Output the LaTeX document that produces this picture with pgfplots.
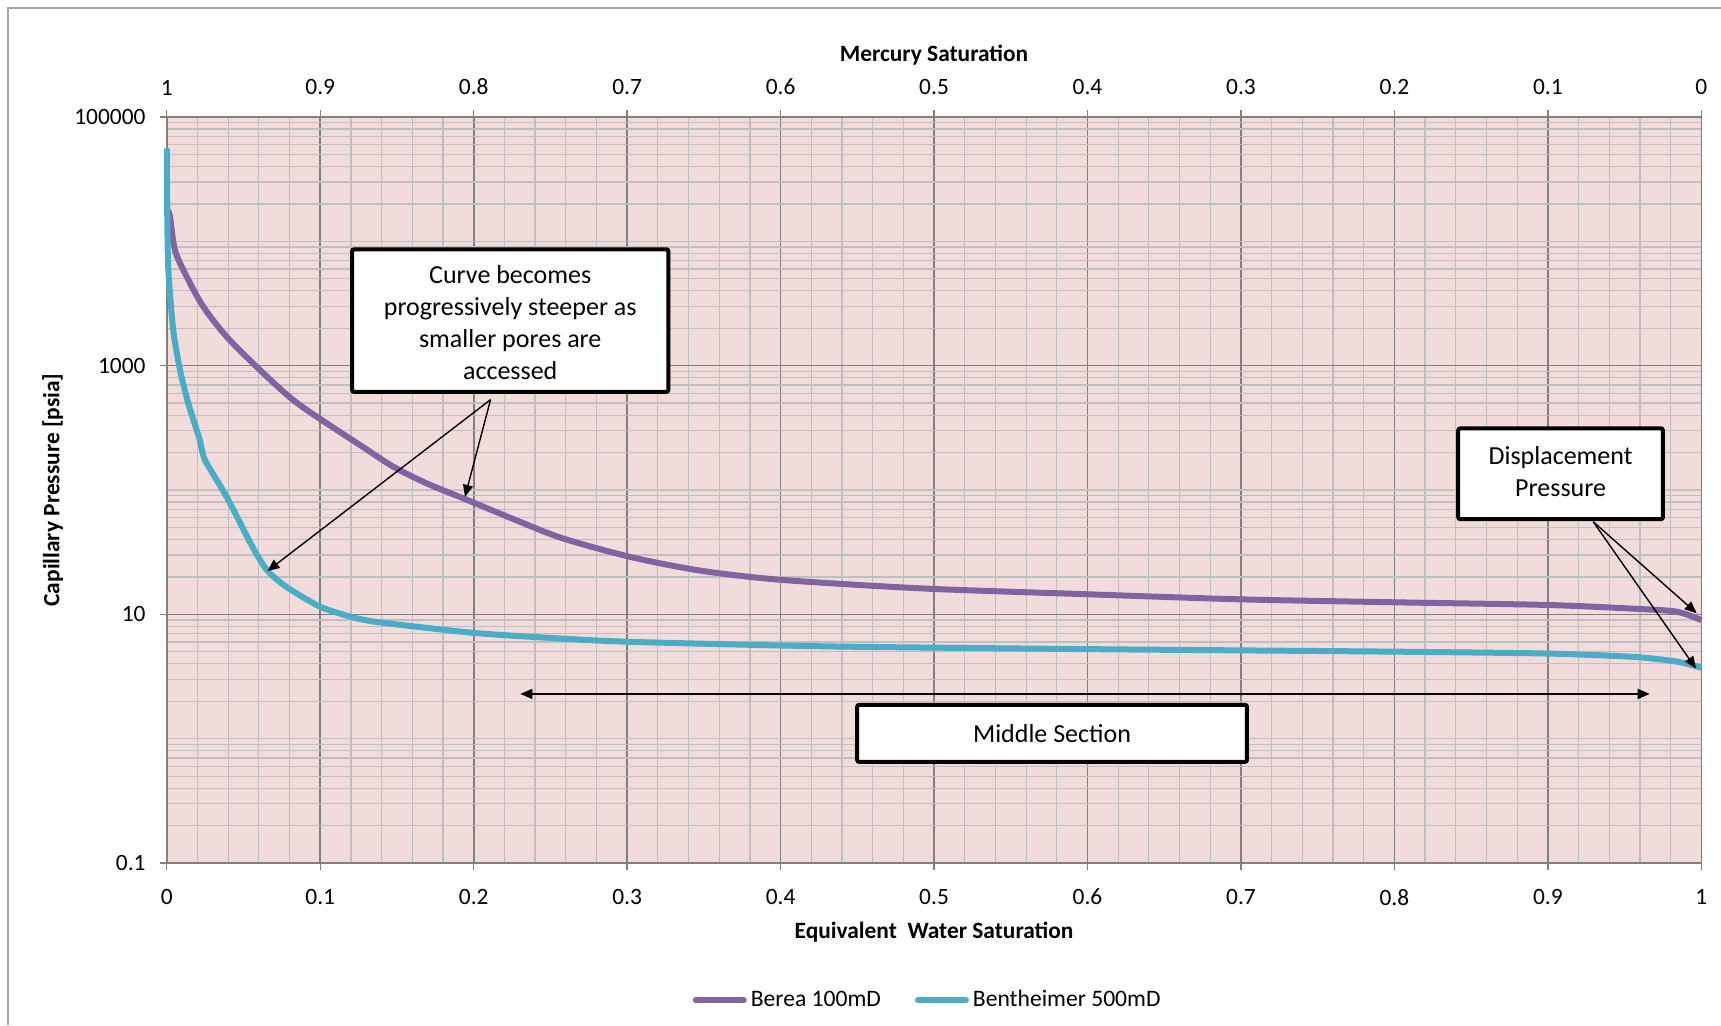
\documentclass[border=0pt]{standalone}
\usepackage{fontspec}
\setmainfont{Carlito}
\usepackage{pgfplots}
\pgfplotsset{compat=1.18}
\usetikzlibrary{arrows.meta}
\definecolor{berea}{HTML}{8064A2}
\definecolor{benth}{HTML}{4BACC6}
\definecolor{bgpink}{HTML}{F2DCDB}
\definecolor{majgrid}{HTML}{808080}
\definecolor{mingrid}{HTML}{BFBFBF}
\definecolor{framegray}{HTML}{A6A6A6}

\begin{document}
\begin{tikzpicture}
\useasboundingbox (0,0) rectangle (860.5pt,512.5pt);
\draw[framegray, line width=0.8pt] (4pt,0) -- (4pt,508.5pt) -- (860.5pt,508.5pt);
\begin{axis}[
  at={(83.4pt,81pt)}, anchor=south west,
  scale only axis, width=767.25pt, height=373pt,
  xmin=0, xmax=1, ymin=0.1, ymax=100000, ymode=log,
  clip=false,
  axis background/.style={fill=bgpink},
  /pgf/number format/assume math mode=true,
  xtick={0,0.1,0.2,0.3,0.4,0.5,0.6,0.7,0.8,0.9,1},
  xticklabels={0,0.1,0.2,0.3,0.4,0.5,0.6,0.7,0.8,0.9,1},
  minor x tick num=4,
  ytick={0.1,10,1000,100000},
  yticklabels={0.1,10,1000,100000},
  minor ytick={0.2,0.3,0.4,0.5,0.6,0.7,0.8,0.9,1,2,3,4,5,6,7,8,9,20,30,40,50,60,70,80,90,100,200,300,400,500,600,700,800,900,2000,3000,4000,5000,6000,7000,8000,9000,10000,20000,30000,40000,50000,60000,70000,80000,90000},
  grid=both,
  minor grid style={mingrid, line width=0.6pt},
  major grid style={majgrid, line width=0.8pt},
  axis line style={majgrid, line width=0.8pt},
  tick style={majgrid, line width=0.7pt},
  tick align=outside, major tick length=3.5pt, minor tick length=0pt,
  xtick pos=both, xticklabel pos=bottom, ytick pos=left,
  xticklabel shift=6pt, yticklabel shift=3.6pt,
  tick label style={font=\fontsize{11.7}{14}\selectfont},
  label style={font=\bfseries\fontsize{11.7}{14}\selectfont},
  xlabel={Equivalent\ \ Water Saturation},
  xlabel style={at={(axis description cs:0.5,-0.0925)}, anchor=center},
  ylabel={Capillary Pressure [psia]},
  ylabel style={at={(axis description cs:-0.0743,0.5)}, anchor=center},
  legend columns=2,
  legend style={at={(0.4965,-0.184)}, anchor=center, draw=none, fill=none,
    font=\fontsize{11.8}{14}\selectfont,
    /tikz/every even column/.append style={column sep=15pt}},
  legend image code/.code={\draw[#1, line cap=round] (0pt,0pt) -- (24pt,0pt);},
]
\addplot[berea, line width=3pt, line join=round, smooth, tension=0.5] coordinates {
(0.0005,17800) (0.0021,15800) (0.0053,8510) (0.013,5190) (0.0238,2980)
(0.039,1710) (0.0607,923) (0.0825,528) (0.1042,344) (0.1259,230)
(0.1476,154) (0.1694,113) (0.1932,85.7) (0.2302,55.5) (0.2584,40.7)
(0.3019,29.0) (0.3453,22.7) (0.3887,19.5) (0.4322,17.8)
(0.5,16.0) (0.6,14.5) (0.7,13.2) (0.8,12.5) (0.899,11.9)
(0.9557,11.1) (0.984,10.5) (1.0,8.97)
};
\addlegendentry{Berea 100mD}
\addplot[benth, line width=3pt, line join=round, smooth, tension=0.4] coordinates {
(0,56000) (0.0003,15800) (0.001,5870) (0.0042,1930) (0.0086,923)
(0.014,498) (0.0195,303) (0.0216,251) (0.0249,174) (0.039,88.1)
(0.0564,33.9) (0.0656,22.4) (0.078,16.6) (0.1,11.5) (0.1215,9.44)
(0.139,8.61) (0.1997,7.10) (0.25,6.46) (0.3019,6.01) (0.4322,5.52)
(0.6,5.25) (0.7,5.13) (0.8,5.01)
(0.899,4.84) (0.9557,4.55) (0.984,4.17) (1.0,3.72)
};
\addlegendentry{Bentheimer 500mD}

% annotation boxes
\draw[black, line width=2pt, fill=white, rounded corners=1pt]
  (axis cs:0.1208,8630) rectangle (axis cs:0.3268,615);
\node[align=center, font=\fontsize{13}{15.9}\selectfont, yshift=-1pt] at (axis cs:0.2238,2304)
  {Curve becomes\\progressively steeper as\\smaller pores are\\accessed};
\draw[black, line width=2pt, fill=white, rounded corners=1pt]
  (axis cs:0.8416,313) rectangle (axis cs:0.9750,58.3);
\node[align=center, font=\fontsize{13}{15.9}\selectfont, yshift=1pt] at (axis cs:0.9083,135.2)
  {Displacement\\Pressure};
\draw[black, line width=2pt, fill=white, rounded corners=1pt]
  (axis cs:0.4499,1.871) rectangle (axis cs:0.7039,0.651);
\node[font=\fontsize{13}{15.9}\selectfont] at (axis cs:0.5769,1.103) {Middle Section};

% arrows
\draw[black, line width=0.7pt, -{Triangle[length=6pt,width=5pt]}]
  (axis cs:0.211,533) -- (axis cs:0.1943,88.1);
\draw[black, line width=0.7pt, -{Triangle[length=6pt,width=5pt]}]
  (axis cs:0.211,533) -- (axis cs:0.0656,22.3);
\draw[black, line width=0.7pt, -{Triangle[length=6pt,width=5pt]}]
  (axis cs:0.9296,55.5) -- (axis cs:0.997,10.2);
\draw[black, line width=0.7pt, -{Triangle[length=6pt,width=5pt]}]
  (axis cs:0.9296,55.5) -- (axis cs:0.9965,3.67);
\draw[black, line width=0.7pt, {Triangle[length=6pt,width=5pt]}-{Triangle[length=6pt,width=5pt]}]
  (axis cs:0.2304,2.29) -- (axis cs:0.9664,2.29);
\end{axis}
\begin{axis}[
  at={(83.4pt,81pt)}, anchor=south west,
  scale only axis, width=767.25pt, height=373pt,
  xmin=0, xmax=1, ymin=0, ymax=1,
  axis x line*=top, axis y line=none,
  axis line style={draw=none},
  /pgf/number format/assume math mode=true,
  xtick={0,0.1,0.2,0.3,0.4,0.5,0.6,0.7,0.8,0.9,1},
  xticklabels={1,0.9,0.8,0.7,0.6,0.5,0.4,0.3,0.2,0.1,0},
  major tick length=0pt,
  xticklabel shift=7.4pt,
  tick label style={font=\fontsize{11.7}{14}\selectfont},
  label style={font=\bfseries\fontsize{11.7}{14}\selectfont},
  xlabel={Mercury Saturation},
  xlabel style={at={(axis description cs:0.5,1.0829)}, anchor=center},
]
\addplot[draw=none] coordinates {(0,0)};
\end{axis}
\end{tikzpicture}
\end{document}
